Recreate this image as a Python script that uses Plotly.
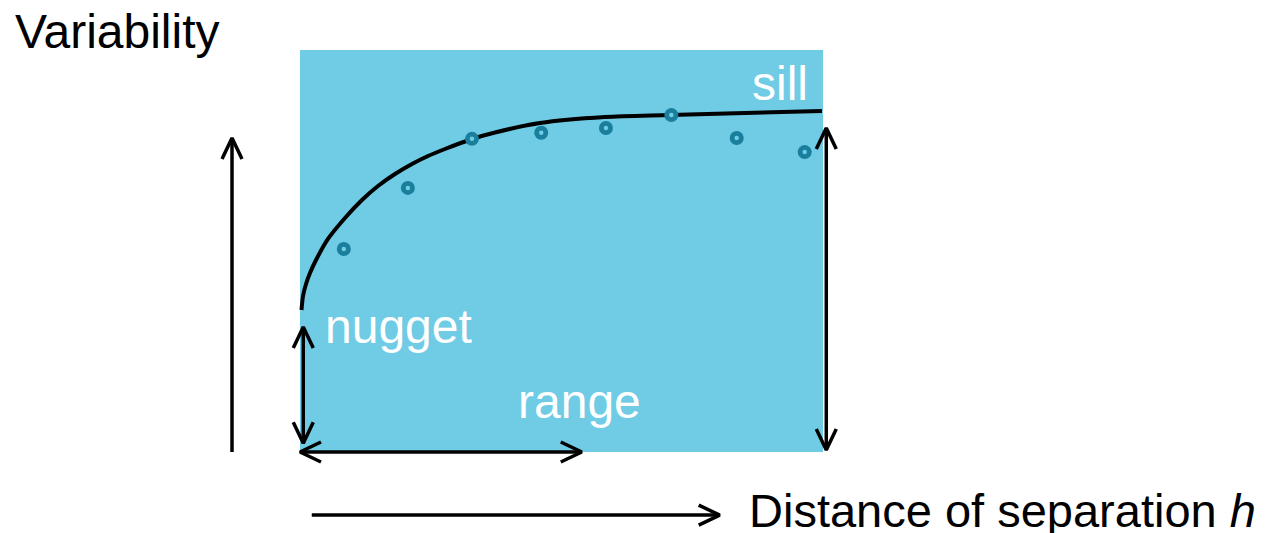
import plotly.graph_objects as go

# ---------------- data (distance h, variability) ----------------
obs_h = [0.67, 1.65, 2.63, 3.69, 4.68, 5.68, 6.68, 7.72]
obs_v = [5.05, 6.57, 7.79, 7.94, 8.06, 8.38, 7.81, 7.46]

model_h = [0.023, 0.046, 0.092, 0.153, 0.245, 0.428, 0.688, 0.948, 1.193, 1.453,
           1.713, 1.958, 2.218, 2.631, 2.983, 3.671, 4.665, 5.660, 7.985]
model_v = [3.532, 3.881, 4.179, 4.453, 4.776, 5.299, 5.821, 6.269, 6.617, 6.915,
           7.164, 7.363, 7.537, 7.786, 7.948, 8.184, 8.333, 8.383, 8.483]

H_MAX = 8.0      # extent of the shaded panel
V_MAX = 10.0

# arrows: (x_start, y_start, x_end, y_end, heads)
arrows = [
    (-1.04, 0.00, -1.04, 7.81, "end"),      # variability axis arrow
    (0.18, -1.57, 6.42, -1.57, "end"),      # distance axis arrow
    (0.05, 0.22, 0.05, 3.11, "both"),       # nugget
    (0.00, 0.00, 4.31, 0.00, "both"),       # range
    (8.05, 0.05, 8.05, 8.06, "both"),       # sill
]

labels = [
    ("Variability", -4.39, 10.47, "black", 48),
    ("sill", 6.88, 9.17, "white", 48),
    ("nugget", 0.352, 3.13, "white", 48),
    ("range", 3.304, 1.26, "white", 48),
    ("Distance of separation <i>h</i>", 6.84, -1.45, "black", 47),
]

# ---------------- geometry of the canvas ----------------
PAGE_OFFSET = 8          # default body margin of the page
W, H = 1270 - PAGE_OFFSET, 533 - PAGE_OFFSET
PX_PER_H = 523 / H_MAX
PX_PER_V = 402 / V_MAX
X0_PX, Y0_PX = 300 - PAGE_OFFSET, 452 - PAGE_OFFSET

x_range = [(0 - X0_PX) / PX_PER_H, (W - X0_PX) / PX_PER_H]
y_range = [(Y0_PX - H) / PX_PER_V, Y0_PX / PX_PER_V]

HEAD_LEN = 21   # px
HEAD_HALF = 10  # px
FONT = "Liberation Sans, Arial, sans-serif"
PANEL = "#70CBE5"
RING = "#1A7F9C"

fig = go.Figure()

fig.add_shape(type="rect", x0=0, y0=0, x1=H_MAX, y1=V_MAX,
              fillcolor=PANEL, line=dict(width=0), layer="below")

fig.add_trace(go.Scatter(x=model_h, y=model_v, mode="lines",
                         line=dict(color="black", width=4, shape="spline",
                                   smoothing=0.8),
                         hoverinfo="skip", showlegend=False))

# observed points: thick ring with a small hole
fig.add_trace(go.Scatter(x=obs_h, y=obs_v, mode="markers",
                         marker=dict(symbol="circle", size=14, color=RING,
                                     line=dict(width=0)),
                         hoverinfo="skip", showlegend=False))
fig.add_trace(go.Scatter(x=obs_h, y=obs_v, mode="markers",
                         marker=dict(symbol="circle", size=4.5, color=PANEL,
                                     line=dict(width=0)),
                         hoverinfo="skip", showlegend=False))


def head(tx, ty, fx, fy):
    dxp = (tx - fx) * PX_PER_H
    dyp = (ty - fy) * PX_PER_V
    L = (dxp ** 2 + dyp ** 2) ** 0.5
    ux, uy = dxp / L, dyp / L
    nx, ny = -uy, ux
    pts = []
    for s in (1, -1):
        px = -HEAD_LEN * ux + s * HEAD_HALF * nx
        py = -HEAD_LEN * uy + s * HEAD_HALF * ny
        pts.append((tx + px / PX_PER_H, ty + py / PX_PER_V))
    return [pts[0][0], tx, pts[1][0], None], [pts[0][1], ty, pts[1][1], None]


ax_x, ax_y = [], []
for (xs, ys, xe, ye, heads) in arrows:
    ax_x += [xs, xe, None]
    ax_y += [ys, ye, None]
    hx, hy = head(xe, ye, xs, ys)
    ax_x += hx
    ax_y += hy
    if heads == "both":
        hx, hy = head(xs, ys, xe, ye)
        ax_x += hx
        ax_y += hy

fig.add_trace(go.Scatter(x=ax_x, y=ax_y, mode="lines",
                         line=dict(color="black", width=3.5),
                         hoverinfo="skip", showlegend=False, cliponaxis=False))

for text, x, y, col, size in labels:
    fig.add_annotation(x=x, y=y, xref="x", yref="y", text=text, showarrow=False,
                       xanchor="left", yanchor="middle",
                       font=dict(family=FONT, size=size, color=col))

fig.update_layout(
    width=W, height=H,
    margin=dict(l=0, r=0, t=0, b=0),
    paper_bgcolor="white", plot_bgcolor="white",
    xaxis=dict(range=x_range, visible=False, fixedrange=True),
    yaxis=dict(range=y_range, visible=False, fixedrange=True),
    showlegend=False,
)

fig.write_html("out.html", config={"displayModeBar": False, "staticPlot": True})
